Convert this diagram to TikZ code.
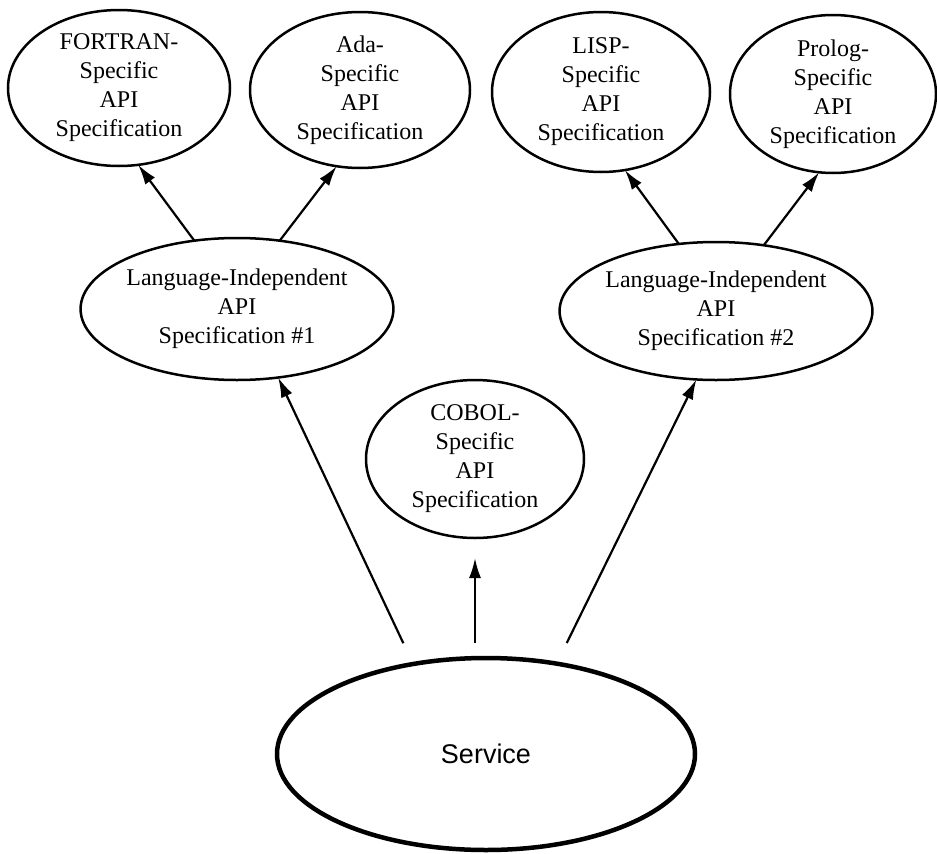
\documentclass[tikz,border=0pt]{standalone}
\usepackage{fontspec}
\setmainfont{Liberation Serif}
\newfontfamily\svcfont{Liberation Sans}
\usetikzlibrary{shapes.geometric,arrows.meta}
\begin{document}
\begin{tikzpicture}[x=1pt,y=-1pt,
  spec/.style={ellipse,draw,line width=2.5pt,inner sep=0pt,outer sep=0pt,align=center,font=\fontsize{24}{29}\selectfont},
  svc/.style={ellipse,draw,line width=4.5pt,inner sep=0pt,outer sep=0pt,font=\svcfont\fontsize{27}{32}\selectfont},
  arr/.style={line width=2.2pt,-{Latex[length=20pt,width=12pt]}}]
\useasboundingbox (0,0) rectangle (937,854);
\node[spec,minimum width=222pt,minimum height=156pt] (fortran) at (119,88) {FORTRAN-\\Specific\\API\\Specification};
\node[spec,minimum width=220pt,minimum height=156pt] (ada) at (360,90) {Ada-\\Specific\\API\\Specification};
\node[spec,minimum width=218pt,minimum height=160pt] (lisp) at (601,92) {LISP-\\Specific\\API\\Specification};
\node[spec,minimum width=206pt,minimum height=158pt] (prolog) at (833,94) {Prolog-\\Specific\\API\\Specification};
\node[spec,minimum width=274pt,minimum height=142pt] (li1) at (237,309) {Language-Independent\\API\\Specification \#1};
\node[spec,minimum width=274pt,minimum height=138pt] (li2) at (716,311) {Language-Independent\\API\\Specification \#2};
\node[spec,minimum width=218pt,minimum height=158pt] (cobol) at (475,459) {COBOL-\\Specific\\API\\Specification};
\node[svc,minimum width=418pt,minimum height=192pt] (service) at (486,754) {Service};
\draw[arr] (li1.122.4) -- (fortran.284.7);
\draw[arr] (li1.58.8) -- (ada.253);
\draw[arr] (li2.119.5) -- (lisp.287.4);
\draw[arr] (li2.54.6) -- (prolog.260.9);
\draw[arr,shorten <=23pt] (service.129.2) -- (li1.301.6);
\draw[arr,shorten <=15pt,shorten >=20pt] (service.north -| cobol.south) -- (cobol.south);
\draw[arr,shorten <=23pt] (service.52.8) -- (li2.254.6);
\end{tikzpicture}
\end{document}
